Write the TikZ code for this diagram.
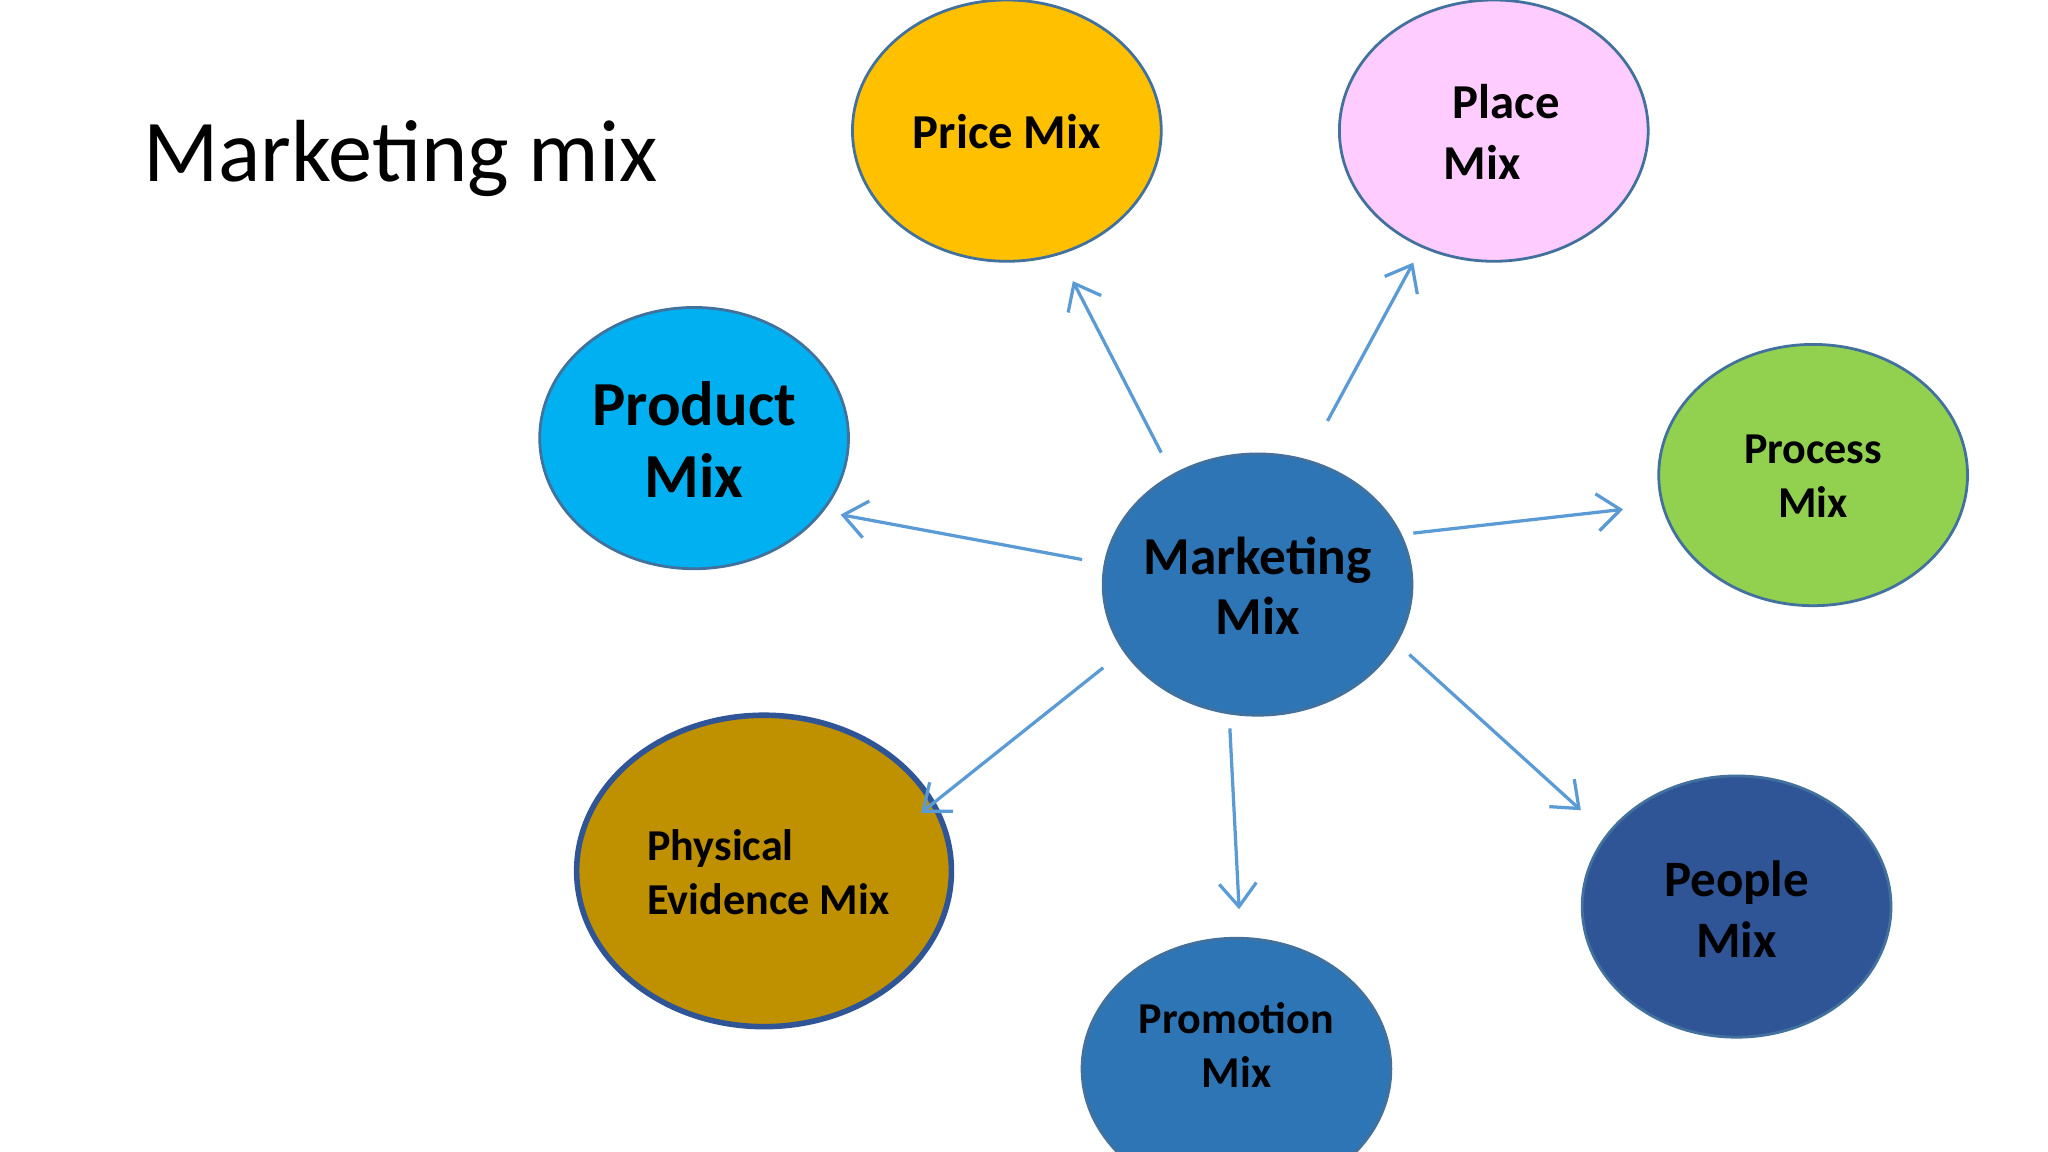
\documentclass[tikz,border=0pt]{standalone}
\usepackage{fontspec}
\setmainfont{Carlito}
\usetikzlibrary{arrows.meta}
\definecolor{cprice}{HTML}{FFC000}
\definecolor{cplace}{HTML}{FFCCFF}
\definecolor{cprod}{HTML}{00B0F0}
\definecolor{cproc}{HTML}{92D050}
\definecolor{cmark}{HTML}{2E75B6}
\definecolor{cphys}{HTML}{BF9000}
\definecolor{cpeop}{HTML}{2F5597}
\definecolor{cedge}{HTML}{41719C}
\definecolor{carrow}{HTML}{5B9BD5}
\tikzset{
  bub/.style={draw=cedge, line width=0.6pt},
  lbl/.style={font=\bfseries, align=center, inner sep=0pt},
  arr/.style={draw=carrow, line width=0.7pt, -{Straight Barb[length=5pt,width=8pt]}}
}
\begin{document}
\begin{tikzpicture}[x=0.01cm,y=-0.01cm]
\useasboundingbox (0,0) rectangle (1552,873);
\fill[white] (0,0) rectangle (1552,873);
\node[anchor=west, font=\fontsize{19}{22}\selectfont] (title) at (96,120) {Marketing mix};
% bubbles
\fill[cprice,bub] (763,99) ellipse [x radius=117,y radius=99];
\fill[cplace,bub] (1132,99) ellipse [x radius=117,y radius=99];
\fill[cprod,bub] (526,332) ellipse [x radius=117,y radius=99];
\fill[cproc,bub] (1374,360) ellipse [x radius=117,y radius=99];
\fill[cmark,bub] (953,443) ellipse [x radius=117,y radius=99];
\fill[cphys,draw=cpeop,line width=1.2pt] (579,660) ellipse [x radius=142,y radius=118];
\fill[cpeop,bub] (1316,687) ellipse [x radius=117,y radius=99];
\fill[cmark,bub] (937,810) ellipse [x radius=117,y radius=99];
% labels
\node[lbl, font=\fontsize{10.5}{14}\selectfont\bfseries] (price) at (763,100) {Price Mix};
\node[lbl, font=\fontsize{10.5}{13}\selectfont\bfseries, align=left] (place) at (1138,100) {\hspace*{2pt}Place\\Mix};
\node[lbl, font=\fontsize{13.5}{15.5}\selectfont\bfseries] (product) at (526,333) {Product\\Mix};
\node[lbl, font=\fontsize{9.5}{11.5}\selectfont\bfseries] (process) at (1374,361) {Process\\Mix};
\node[lbl, font=\fontsize{11.5}{13}\selectfont\bfseries] (marketing) at (953,444) {Marketing\\Mix};
\node[lbl, font=\fontsize{9.5}{11.5}\selectfont\bfseries, align=left, anchor=west] (physical) at (490,661) {Physical\\Evidence Mix};
\node[lbl, font=\fontsize{11}{13}\selectfont\bfseries] (people) at (1316,689) {People\\Mix};
\node[lbl, font=\fontsize{9.5}{11.5}\selectfont\bfseries] (promotion) at (937,792) {Promotion\\Mix};
% arrow endpoints
\coordinate (s1) at (880,343); \coordinate (e1) at (813,213);
\coordinate (s2) at (1006,319); \coordinate (e2) at (1071,199);
\coordinate (s3) at (820,424); \coordinate (e3) at (637,390);
\coordinate (s4) at (1071,404); \coordinate (e4) at (1230,386);
\coordinate (s5) at (1068,496); \coordinate (e5) at (1198,614);
\coordinate (s6) at (932,552); \coordinate (e6) at (939,689);
\coordinate (s7) at (836,506); \coordinate (e7) at (698,616);
\foreach \i in {1,...,7} \draw[arr] (s\i) -- (e\i);
\end{tikzpicture}
\end{document}
